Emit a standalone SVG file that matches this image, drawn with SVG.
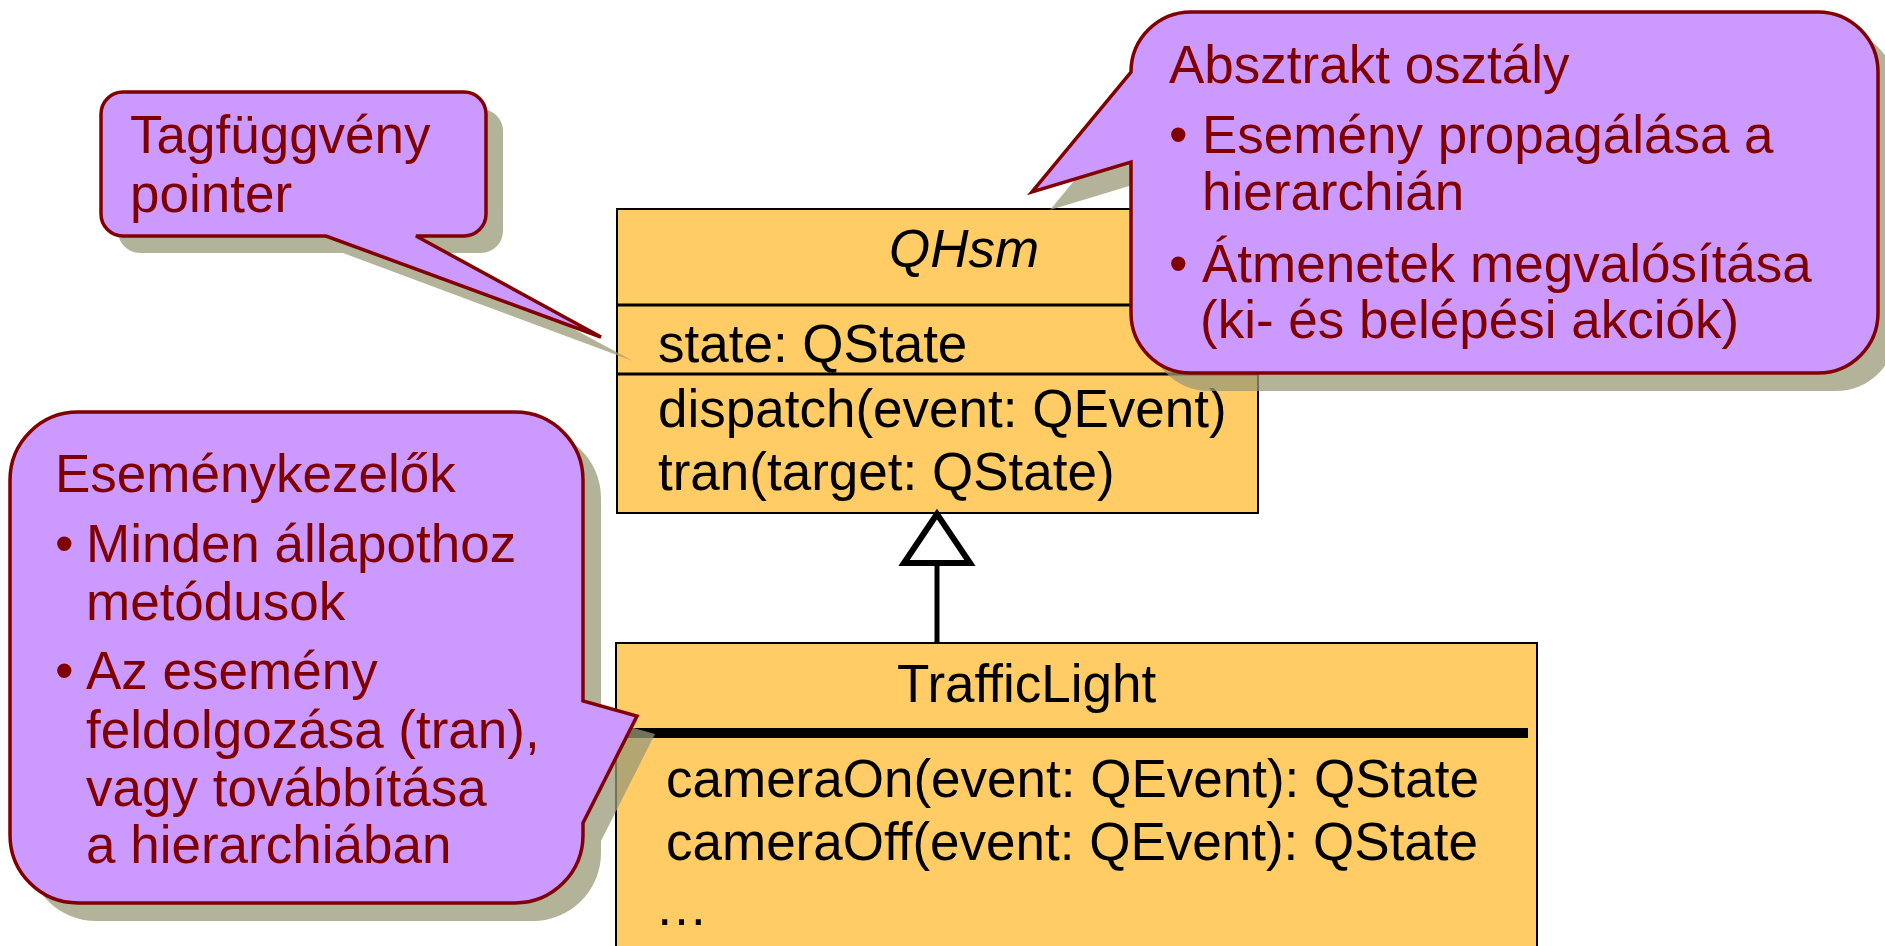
<svg xmlns="http://www.w3.org/2000/svg" width="1885" height="946" viewBox="0 0 1885 946">
<style>
.cls{fill:#FFCC66;stroke:#000;stroke-width:2}
.div{stroke:#000;stroke-width:3}
.t{font-family:"Liberation Sans",Arial,sans-serif;font-size:53px;fill:#000}
.c{font-family:"Liberation Sans",Arial,sans-serif;font-size:53px;fill:#800000}
.callout{fill:#CC99FF;stroke:#800000;stroke-width:3.5;stroke-linejoin:miter}
.shadow{fill:#999977;opacity:0.75}
.conn{stroke:#000;stroke-width:5;fill:none}
.tri{fill:#fff;stroke:#000;stroke-width:6;stroke-linejoin:miter}
</style>
<rect width="1885" height="946" fill="#fff"/>
<g id="QHsm">
<rect class="cls" x="617" y="209" width="641" height="304"/>
<line class="div" x1="617" y1="305" x2="1258" y2="305"/>
<line class="div" x1="617" y1="374" x2="1258" y2="374"/>
<text class="t" x="889" y="267" font-size="52" font-style="italic">QHsm</text>
<text class="t" x="658" y="362">state: QState</text>
<text class="t" x="658" y="427">dispatch(event: QEvent)</text>
<text class="t" x="658" y="490">tran(target: QState)</text>
</g>
<g id="TrafficLight">
<rect class="cls" x="616" y="643" width="921" height="310"/>
<rect x="620" y="728" width="908" height="10" fill="#000"/>
<text class="t" x="897" y="702" font-size="52">TrafficLight</text>
<text class="t" x="666" y="797">cameraOn(event: QEvent): QState</text>
<text class="t" x="666" y="860">cameraOff(event: QEvent): QState</text>
<text class="t" x="655" y="925">…</text>
</g>
<g id="connectors">
<line class="conn" x1="937" y1="563" x2="937" y2="643"/>
<polygon class="tri" points="937,514 904,563 970,563"/>
</g>
<g id="shadows">
<path class="shadow" d="M 140,109 H 481 A 22 22 0 0 1 503 131 V 231 A 22 22 0 0 1 481 253 H 433 L 633 361 L 343 253 H 140 A 22 22 0 0 1 118 231 V 131 A 22 22 0 0 1 140 109 Z"/>
<path class="shadow" d="M 1209,30 H 1836 A 60 60 0 0 1 1896 90 V 331 A 60 60 0 0 1 1836 391 H 1209 A 60 60 0 0 1 1149 331 V 180 L 1050 210 L 1149 90 A 60 60 0 0 1 1209 30 Z"/>
<path class="shadow" d="M 96,430 H 533 A 68 68 0 0 1 601 498 V 719 L 655 734 L 601 841 V 853 A 68 68 0 0 1 533 921 H 96 A 68 68 0 0 1 28 853 V 498 A 68 68 0 0 1 96 430 Z"/>
</g>
<g id="callout-tagfuggveny">
<path class="callout" d="M 123,92 H 464 A 22 22 0 0 1 486 114 V 214 A 22 22 0 0 1 464 236 H 416 L 601 337 L 326 236 H 123 A 22 22 0 0 1 101 214 V 114 A 22 22 0 0 1 123 92 Z"/>
<text class="c" x="130" y="153" font-size="52">Tagfüggvény</text>
<text class="c" x="130" y="212" font-size="52">pointer</text>
</g>
<g id="callout-absztrakt">
<path class="callout" d="M 1191,12 H 1818 A 60 60 0 0 1 1878 72 V 313 A 60 60 0 0 1 1818 373 H 1191 A 60 60 0 0 1 1131 313 V 162 L 1032 192 L 1131 72 A 60 60 0 0 1 1191 12 Z"/>
<text class="c" x="1169" y="83">Absztrakt osztály</text>
<text class="c" x="1169" y="153">•</text>
<text class="c" x="1202" y="153">Esemény propagálása a</text>
<text class="c" x="1202" y="210">hierarchián</text>
<text class="c" x="1169" y="282">•</text>
<text class="c" x="1202" y="282">Átmenetek megvalósítása</text>
<text class="c" x="1200" y="338">(ki- és belépési akciók)</text>
</g>
<g id="callout-esemenykezelok">
<path class="callout" d="M 78,412 H 515 A 68 68 0 0 1 583 480 V 701 L 637 716 L 583 823 V 835 A 68 68 0 0 1 515 903 H 78 A 68 68 0 0 1 10 835 V 480 A 68 68 0 0 1 78 412 Z"/>
<text class="c" x="55" y="492">Eseménykezelők</text>
<text class="c" x="55" y="562">•</text>
<text class="c" x="86" y="562">Minden állapothoz</text>
<text class="c" x="86" y="620">metódusok</text>
<text class="c" x="55" y="689">•</text>
<text class="c" x="86" y="689">Az esemény</text>
<text class="c" x="86" y="748">feldolgozása (tran),</text>
<text class="c" x="86" y="806">vagy továbbítása</text>
<text class="c" x="86" y="863">a hierarchiában</text>
</g>
</svg>
